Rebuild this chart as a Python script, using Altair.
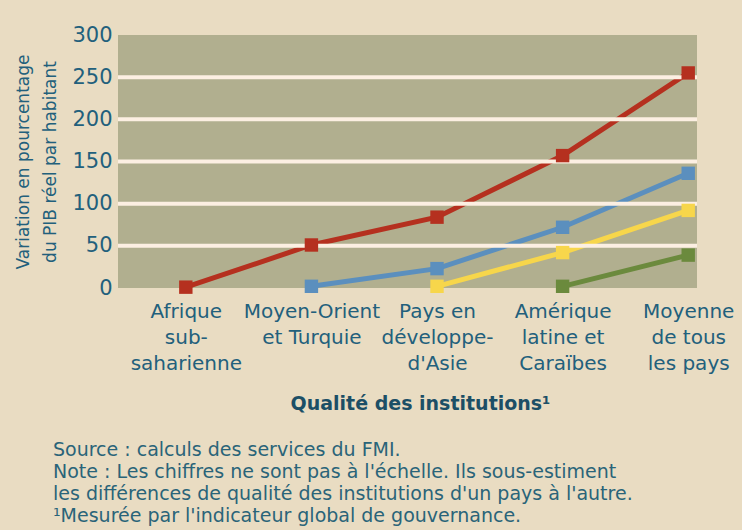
import altair as alt
import pandas as pd
import json

# ---- data ----
categories = [
    ["Afrique", "sub-", "saharienne"],
    ["Moyen-Orient", "et Turquie"],
    ["Pays en", "développe-", "d'Asie"],
    ["Amérique", "latine et", "Caraïbes"],
    ["Moyenne", "de tous", "les pays"],
]
series_names = ["Série 1", "Série 2", "Série 3", "Série 4"]
serie_1 = [1, 51, 84, 157, 255]
serie_2 = [None, 2, 23, 72, 136]
serie_3 = [None, None, 2, 42, 92]
serie_4 = [None, None, None, 2, 39]
series_colors = ["#b5301f", "#5b8fbe", "#f7d64b", "#6b8a3d"]
y_ticks = [0, 50, 100, 150, 200, 250, 300]
footnotes = [
    "Source : calculs des services du FMI.",
    "Note : Les chiffres ne sont pas à l'échelle. Ils sous-estiment",
    "les différences de qualité des institutions d'un pays à l'autre.",
    "¹Mesurée par l'indicateur global de gouvernance.",
]

rows = []
for name, vals in zip(series_names, [serie_1, serie_2, serie_3, serie_4]):
    for i, v in enumerate(vals):
        if v is not None:
            rows.append({"serie": name, "idx": i, "val": v})
df = pd.DataFrame(rows)

grid_df = pd.DataFrame({"val": [t for t in y_ticks if 0 < t < 300]})
foot_df = pd.DataFrame({"txt": footnotes, "i": list(range(len(footnotes)))})

label_expr = json.dumps(categories, ensure_ascii=False) + "[datum.value]"

TEAL = "#22607c"
FONT = "DejaVu Sans"

color_scale = alt.Scale(domain=series_names, range=series_colors)

x_enc = alt.X(
    "idx:Q",
    scale=alt.Scale(domain=[-0.54, 4.07], nice=False, zero=False),
    axis=alt.Axis(
        values=[0, 1, 2, 3, 4],
        labelExpr=label_expr,
        title="Qualité des institutions¹",
        titleFont=FONT,
        titleFontSize=19,
        titleFontWeight="bold",
        titleColor="#1c4f66",
        titleX=302,
        titleY=115,
        titleBaseline="middle",
        labelFont=FONT,
        labelFontSize=20,
        labelLineHeight=26,
        labelColor=TEAL,
        labelPadding=13,
        labelBaseline="top",
        ticks=False,
        domain=False,
        grid=False,
        labelOverlap=False,
    ),
)
y_enc = alt.Y(
    "val:Q",
    scale=alt.Scale(domain=[0, 300], nice=False),
    axis=alt.Axis(
        values=y_ticks,
        title=["Variation en pourcentage", "du PIB réel par habitant"],
        titleFont=FONT,
        titleFontSize=17,
        titleFontWeight="normal",
        titleColor=TEAL,
        titleLineHeight=27,
        titlePadding=12,
        labelFont=FONT,
        labelFontSize=21,
        labelColor=TEAL,
        labelPadding=6,
        ticks=False,
        domain=False,
        grid=False,
    ),
)

lines = alt.Chart(df).mark_line(strokeWidth=5).encode(
    x=x_enc,
    y=y_enc,
    color=alt.Color("serie:N", scale=color_scale, legend=None),
    detail="serie:N",
)

grid = alt.Chart(grid_df).mark_rule(color="#fcefe2", strokeWidth=4).encode(
    y=y_enc
)

points = alt.Chart(df).mark_point(shape="square", filled=True, size=180, opacity=1).encode(
    x=x_enc,
    y=y_enc,
    color=alt.Color("serie:N", scale=color_scale, legend=None),
)

foot = alt.Chart(foot_df).mark_text(
    align="left", baseline="middle", font=FONT, fontSize=19, color="#2a6479"
).transform_calculate(
    py="415 + datum.i * 22"
).encode(
    x=alt.value(-65),
    y=alt.Y("py:Q", scale=None, axis=None),
    text="txt:N",
)

chart = alt.layer(lines, grid, points, foot).properties(
    width=579,
    height=253,
    background="#e9dcc2",
    padding={"left": 118, "top": 35, "right": 45, "bottom": 242},
    autosize=alt.AutoSizeParams(type="none"),
).configure_view(
    fill="#b1af8f", stroke=None
)

chart.save("out.html", embed_options={"renderer": "svg", "actions": False})
